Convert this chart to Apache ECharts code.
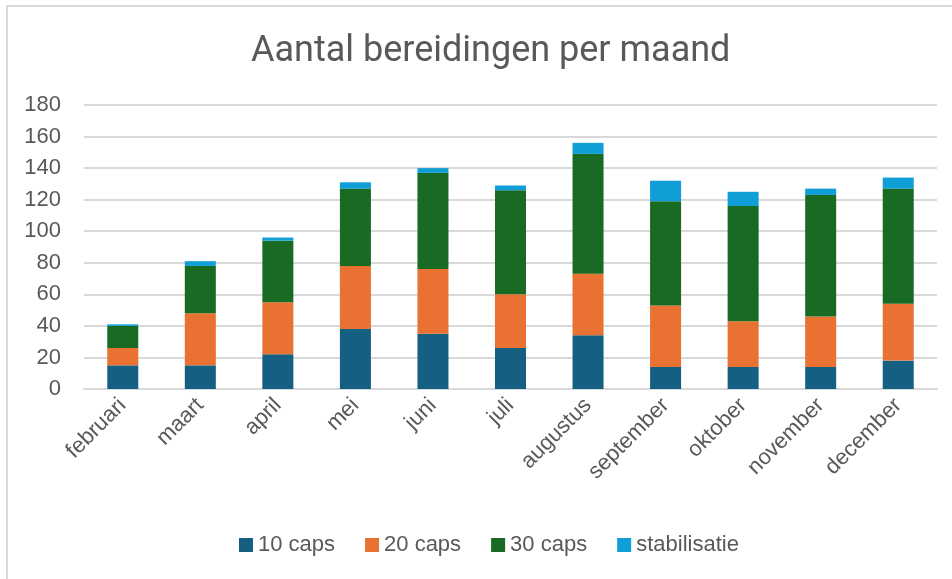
<!DOCTYPE html>
<html>
<head>
<meta charset="utf-8">
<script src="https://cdn.jsdelivr.net/npm/echarts@6/dist/echarts.min.js"></script>
<style>
  html, body { margin: 0; padding: 0; background: #fff; }
  #frame { position: absolute; left: 6px; top: 5px; width: 1000px; height: 600px; border: 2px solid #d9d9d9; box-sizing: border-box; }
  #main { position: absolute; left: 0; top: 0; width: 952px; height: 579px; }
</style>
</head>
<body>
<div id="frame"></div>
<div id="main"></div>
<script>
var months = ["februari", "maart", "april", "mei", "juni", "juli", "augustus", "september", "oktober", "november", "december"];
var caps10 = [15, 15, 22, 38, 35, 26, 34, 14, 14, 14, 18];
var caps20 = [11, 33, 33, 40, 41, 34, 39, 39, 29, 32, 36];
var caps30 = [14, 30, 39, 49, 61, 66, 76, 66, 73, 77, 73];
var stabilisatie = [1, 3, 2, 4, 3, 3, 7, 13, 9, 4, 7];

var myChart = echarts.init(document.getElementById("main"));

function serie(name, data, color) {
    return {
        name: name,
        type: "bar",
        stack: "totaal",
        data: data,
        barWidth: "40%",
        itemStyle: { color: color },
    };
}

var tekst = "Liberation Sans, Arial, sans-serif";

var option = {
    animation: false,
    title: {
        text: "Aantal bereidingen per maand",
        left: 246,
        top: 29,
        textStyle: {
            fontFamily: "Roboto, sans-serif",
            fontWeight: "normal",
            fontSize: 36,
            color: "#595959",
        },
    },
    legend: {
        bottom: 18,
        left: 234,
        itemWidth: 14,
        itemHeight: 14,
        itemGap: 30,
        icon: "rect",
        textStyle: { fontSize: 22, color: "#595959", fontFamily: tekst },
        data: ["10 caps", "20 caps", "30 caps", "stabilisatie"],
    },
    grid: {
        left: 84,
        right: 15,
        top: 105,
        bottom: 190,
    },
    xAxis: {
        type: "category",
        data: months,
        axisTick: { show: false },
        axisLine: { lineStyle: { color: "#d9d9d9", width: 2 } },
        axisLabel: {
            rotate: 45,
            fontSize: 22,
            color: "#595959",
            margin: 13,
            fontFamily: tekst,
        },
    },
    yAxis: {
        type: "value",
        min: 0,
        max: 180,
        interval: 20,
        axisLabel: { fontSize: 22, color: "#595959", margin: 23, fontFamily: tekst },
        splitLine: { lineStyle: { color: "#d9d9d9", width: 2 } },
    },
    series: [
        serie("10 caps", caps10, "#156082"),
        serie("20 caps", caps20, "#E97132"),
        serie("30 caps", caps30, "#196B24"),
        serie("stabilisatie", stabilisatie, "#0F9ED5"),
    ],
};
myChart.setOption(option);
</script>
</body>
</html>
